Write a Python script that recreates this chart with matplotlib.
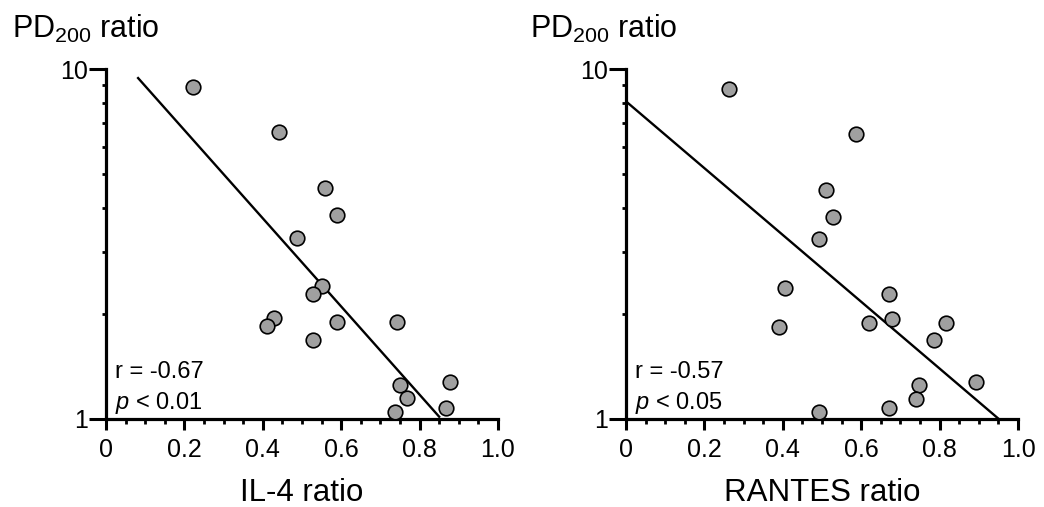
import matplotlib
matplotlib.use("Agg")
import matplotlib.pyplot as plt
from matplotlib.ticker import FixedLocator, NullFormatter, LogLocator
import numpy as np

plt.rcParams['font.family'] = ['Liberation Sans', 'DejaVu Sans']
plt.rcParams['mathtext.fontset'] = 'custom'
plt.rcParams['mathtext.rm'] = 'Liberation Sans'
plt.rcParams['mathtext.it'] = 'Liberation Sans:italic'

# Left panel: IL-4 ratio vs PD200 ratio
il4_x = [0.223, 0.442, 0.558, 0.590, 0.488, 0.552, 0.528, 0.428, 0.410, 0.590,
         0.527, 0.743, 0.877, 0.751, 0.768, 0.738, 0.868]
il4_y = [8.88, 6.62, 4.56, 3.82, 3.29, 2.40, 2.28, 1.94, 1.845, 1.894,
         1.68, 1.894, 1.279, 1.251, 1.146, 1.049, 1.073]
il4_fit_x = [0.082, 0.850]
il4_fit_y = [9.43, 1.015]
il4_stats = ["r = -0.67", "$p$ < 0.01"]
il4_label = "IL-4 ratio"

# Right panel: RANTES ratio vs PD200 ratio
rantes_x = [0.264, 0.587, 0.511, 0.527, 0.493, 0.405, 0.670, 0.390, 0.619, 0.679,
            0.817, 0.785, 0.894, 0.747, 0.740, 0.670, 0.493]
rantes_y = [8.77, 6.54, 4.51, 3.78, 3.26, 2.37, 2.27, 1.838, 1.887, 1.929,
            1.887, 1.684, 1.278, 1.25, 1.14, 1.075, 1.05]
rantes_fit_x = [0.0, 0.951]
rantes_fit_y = [8.09, 1.0]
rantes_stats = ["r = -0.57", "$p$ < 0.05"]
rantes_label = "RANTES ratio"

y_label = "PD$_{\\mathrm{200}}$ ratio"
x_ticks = [0, 0.2, 0.4, 0.6, 0.8, 1.0]
x_ticklabels = ["0", "0.2", "0.4", "0.6", "0.8", "1.0"]
y_ticks = [1, 10]
y_ticklabels = ["1", "10"]

fig = plt.figure(figsize=(10.44, 5.07), dpi=100)

panels = [
    (0.1015, il4_x, il4_y, il4_fit_x, il4_fit_y, il4_stats, il4_label, 0.0115),
    (0.5996, rantes_x, rantes_y, rantes_fit_x, rantes_fit_y, rantes_stats, rantes_label, 0.508),
]

for left, xs, ys, fx, fy, stats, xlabel, ylab_x in panels:
    ax = fig.add_axes([left, 0.1736, 0.3755, 0.690])
    ax.set_yscale('log')
    ax.set_xlim(0, 1.0)
    ax.set_ylim(1, 10)
    for s in ['top', 'right']:
        ax.spines[s].set_visible(False)
    for s in ['left', 'bottom']:
        ax.spines[s].set_linewidth(2.3)
        ax.spines[s].set_capstyle('projecting')
    ax.plot(fx, fy, color='black', lw=1.7, zorder=2)
    ax.plot(xs, ys, 'o', ms=10.5, mfc='#a0a0a0', mec='black', mew=1.2,
            zorder=3, clip_on=False)

    ax.xaxis.set_major_locator(FixedLocator(x_ticks))
    ax.set_xticklabels(x_ticklabels)
    ax.xaxis.set_minor_locator(FixedLocator(np.arange(0.05, 1.0, 0.05)))
    ax.yaxis.set_major_locator(FixedLocator(y_ticks))
    ax.set_yticklabels(y_ticklabels)
    ax.yaxis.set_minor_locator(LogLocator(base=10, subs=np.arange(2, 10)))
    ax.yaxis.set_minor_formatter(NullFormatter())

    ax.tick_params(axis='x', which='major', direction='out', length=8, width=2.2,
                   labelsize=18, pad=6)
    ax.tick_params(axis='x', which='minor', direction='out', length=3.5, width=2.0)
    ax.tick_params(axis='y', which='major', direction='out', length=12, width=2.2,
                   labelsize=18, pad=1)
    ax.tick_params(axis='y', which='minor', direction='out', length=3, width=2.0)

    ax.set_xlabel(xlabel, fontsize=22.5, labelpad=11)

    ax.text(0.022, 0.117, stats[0], transform=ax.transAxes, fontsize=17,
            ha='left', va='baseline')
    ax.text(0.022, 0.029, stats[1], transform=ax.transAxes, fontsize=17,
            ha='left', va='baseline')

    fig.text(ylab_x, 0.925, y_label, fontsize=22, ha='left', va='baseline')

fig.savefig("out.png", dpi=100)
